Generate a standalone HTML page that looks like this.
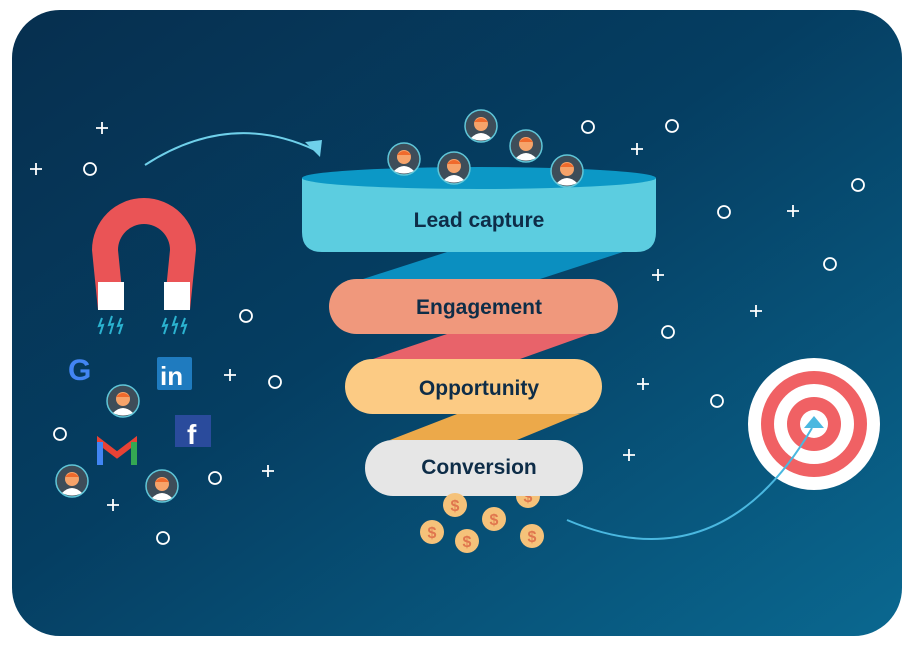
<!DOCTYPE html>
<html><head><meta charset="utf-8"><style>
html,body{margin:0;padding:0;background:#fff;width:914px;height:645px;overflow:hidden}
svg{display:block}
text{font-family:"Liberation Sans",sans-serif;font-weight:bold}
</style></head><body>
<svg width="914" height="645" viewBox="0 0 914 645" xmlns="http://www.w3.org/2000/svg">
<defs>
<linearGradient id="bg" x1="0" y1="0" x2="1" y2="1">
<stop offset="0" stop-color="#062f4f"/><stop offset="0.45" stop-color="#053e62"/><stop offset="1" stop-color="#0a6890"/>
</linearGradient>
<g id="p"><circle r="16" fill="#3e4d59" stroke="#5fc6d8" stroke-width="1.5"/><path d="M-10 12 Q0 2 10 12 Q0 17 -10 12Z" fill="#fff"/><circle cy="-2" r="7" fill="#f6a36a"/><path d="M-7 -4 Q0 -12 7 -4 Z" fill="#f06a2c"/></g>
<g id="c"><circle r="12" fill="#f5c27a"/><text y="6" text-anchor="middle" font-size="16" fill="#e0764e">$</text></g>
<g id="o"><circle r="6" fill="none" stroke="#fff" stroke-width="1.8"/></g>
<g id="x"><path d="M-6 0H6M0 -6V6" stroke="#fff" stroke-width="1.8"/></g>
</defs>
<rect x="12" y="10" width="890" height="626" rx="48" fill="url(#bg)"/>
<use href="#x" x="102" y="128"/><use href="#x" x="36" y="169"/><use href="#o" x="90" y="169"/>
<use href="#o" x="246" y="316"/><use href="#x" x="230" y="375"/><use href="#o" x="275" y="382"/>
<use href="#o" x="60" y="434"/><use href="#o" x="215" y="478"/><use href="#x" x="268" y="471"/>
<use href="#x" x="113" y="505"/><use href="#o" x="163" y="538"/>
<use href="#o" x="588" y="127"/><use href="#o" x="672" y="126"/><use href="#x" x="637" y="149"/>
<use href="#o" x="858" y="185"/><use href="#o" x="724" y="212"/><use href="#x" x="793" y="211"/>
<use href="#o" x="830" y="264"/><use href="#x" x="658" y="275"/><use href="#x" x="756" y="311"/>
<use href="#o" x="668" y="332"/><use href="#x" x="643" y="384"/><use href="#o" x="717" y="401"/>
<use href="#x" x="629" y="455"/>
<path d="M145 165 Q230 110 315 150" fill="none" stroke="#6fd0ea" stroke-width="2"/>
<path d="M305 142 L322 140 L320 157Z" fill="#6fd0ea"/>
<path d="M92 250 A52 52 0 0 1 196 250 L190 310 H164 L170 250 A26 26 0 0 0 118 250 L124 310 H98 Z" fill="#ea5456"/>
<path d="M98 282 H124 L124 310 H98Z M164 282 H190 L190 310 H164Z" fill="#fff"/>
<g stroke="#2bb3d0" stroke-width="2" fill="none">
<path d="M102 318 l-3 8 4 -1 -3 9 M112 316 l-3 9 4 -1 -3 10 M121 318 l-3 8 4 -1 -3 9"/>
<path d="M166 318 l-3 8 4 -1 -3 9 M176 316 l-3 9 4 -1 -3 10 M185 318 l-3 8 4 -1 -3 9"/>
</g>
<text x="68" y="380" font-size="30" fill="#4285f4">G</text>
<rect x="157" y="357" width="35" height="33" rx="2" fill="#1f7bbf"/><text x="160" y="385" font-size="26" fill="#fff">in</text>
<rect x="175" y="415" width="36" height="32" fill="#2a4b9c"/><text x="187" y="444" font-size="28" fill="#fff">f</text>
<path d="M100 465 V442 L117 455 L134 442 V465" fill="none" stroke="#e84235" stroke-width="6"/>
<path d="M100 465 V442" stroke="#4285f4" stroke-width="6"/><path d="M134 465 V442" stroke="#34a853" stroke-width="6"/>
<use href="#p" x="123" y="401"/><use href="#p" x="72" y="481"/><use href="#p" x="162" y="486"/>
<path d="M302 178 H656 V232 Q656 252 636 252 H322 Q302 252 302 232 Z" fill="#5ccde0"/>
<ellipse cx="479" cy="178" rx="177" ry="11" fill="#0c98c6"/>
<use href="#p" x="481" y="126"/><use href="#p" x="404" y="159"/><use href="#p" x="454" y="168"/><use href="#p" x="526" y="146"/><use href="#p" x="567" y="171"/>
<g><clipPath id="cl"><rect x="460" y="150" width="60" height="40"/></clipPath><use href="#p" x="491" y="183" clip-path="url(#cl)"/></g>
<path d="M447 252 H623 L537 280 H360Z" fill="#0b8fc0"/>
<rect x="329" y="279" width="289" height="55" rx="27.5" fill="#f0987c"/>
<path d="M447 334 H590 L520 359 H373Z" fill="#e8636a"/>
<rect x="345" y="359" width="257" height="55" rx="27.5" fill="#fccb84"/>
<path d="M457 414 H580 L517 440 H390Z" fill="#eca94a"/>
<use href="#c" x="528" y="496"/>
<rect x="365" y="440" width="218" height="56" rx="28" fill="#e6e6e6"/>
<g font-size="21" fill="#0e2d48" text-anchor="middle">
<text x="479" y="227">Lead capture</text>
<text x="479" y="314">Engagement</text>
<text x="479" y="395">Opportunity</text>
<text x="479" y="474">Conversion</text>
</g>
<use href="#c" x="455" y="505"/><use href="#c" x="494" y="519"/><use href="#c" x="432" y="532"/><use href="#c" x="467" y="541"/><use href="#c" x="532" y="536"/>
<circle cx="814" cy="424" r="66" fill="#fff"/>
<circle cx="814" cy="424" r="53" fill="#f06164"/>
<circle cx="814" cy="424" r="40" fill="#fff"/>
<circle cx="814" cy="424" r="27" fill="#f06164"/>
<circle cx="814" cy="424" r="14" fill="#fff"/>
<path d="M567 520 Q720 585 812 428" fill="none" stroke="#4ab8e0" stroke-width="2"/>
<path d="M804 428 L814 416 L824 428Z" fill="#4ab8e0"/>
</svg>
</body></html>
